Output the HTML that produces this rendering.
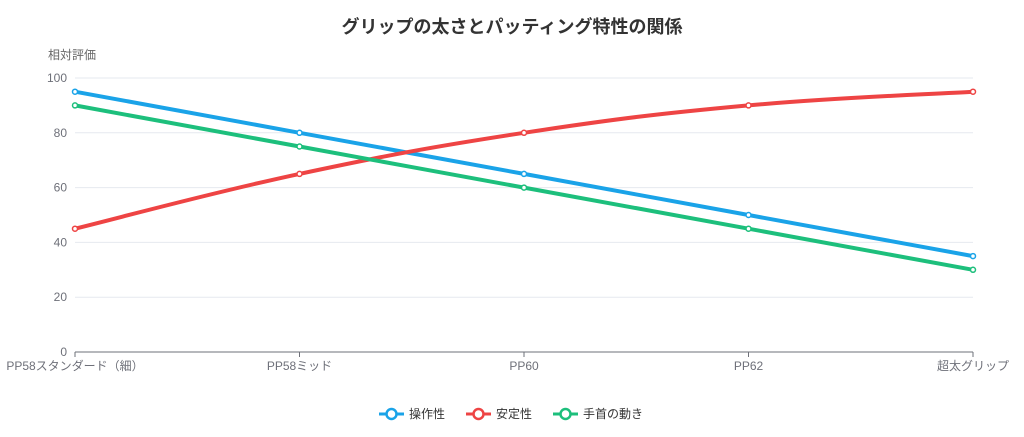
<!DOCTYPE html>
<html><head><meta charset="utf-8"><style>
html,body{margin:0;padding:0;background:#fff;width:1024px;height:437px;overflow:hidden}
svg{display:block;font-family:"Liberation Sans","Noto Sans CJK JP",sans-serif}
</style></head><body>
<svg id="c" width="1024" height="437">
<text x="512" y="33" text-anchor="middle" font-size="18" font-weight="bold" fill="#333">グリップの太さとパッティング特性の関係</text>
<text x="48" y="59" font-size="12" fill="#666">相対評価</text>
<g id="grid"></g><g id="series"></g><g id="legend"></g>
</svg>
<script>
const categories=["PP58スタンダード（細）","PP58ミッド","PP60","PP62","超太グリップ"];
const yTicks=[0,20,40,60,80,100];
const seriesNames=["操作性","安定性","手首の動き"];
const sControl=[95,80,65,50,35];
const sStable=[45,65,80,90,95];
const sWrist=[90,75,60,45,30];
const colors=["#1aa3e8","#ee4444","#1dbf7c"];
const NS="http://www.w3.org/2000/svg";
const L=75,R=973,T=78,B=352;
const xS=i=>L+i*(R-L)/(categories.length-1);
const yS=v=>B-v/100*(B-T);
function mk(t,a,p){const e=document.createElementNS(NS,t);for(const k in a)e.setAttribute(k,a[k]);p.appendChild(e);return e;}
const g=document.getElementById('grid');
yTicks.forEach(v=>{
 const l=mk('line',{x1:L,x2:R,y1:yS(v),y2:yS(v),stroke:v===0?'#6e7079':'#e6e9ef','stroke-width':1},g);
 
 
 const t=mk('text',{x:L-8,y:yS(v)+4,'text-anchor':'end','font-size':12,fill:'#6e7079'},g);
 t.textContent=v;
 
 
});
categories.forEach((c,i)=>{
 const tk=mk('line',{x1:xS(i),x2:xS(i),y1:B,y2:B+5,stroke:'#6e7079'},g);
 
 
 const t=mk('text',{x:xS(i),y:B+18,'text-anchor':'middle','font-size':12,fill:'#6e7079'},g);
 t.textContent=c;
 
 
});
function path(vals){
 const p=vals.map((v,i)=>[xS(i),yS(v)]);
 let d='M'+p[0][0]+','+p[0][1];
 const k=0.2;
 for(let i=0;i<p.length-1;i++){
  const p0=p[Math.max(i-1,0)],p1=p[i],p2=p[i+1],p3=p[Math.min(i+2,p.length-1)];
  const c1=[p1[0]+(p2[0]-p0[0])*k,p1[1]+(p2[1]-p0[1])*k];
  const c2=[p2[0]-(p3[0]-p1[0])*k,p2[1]-(p3[1]-p1[1])*k];
  d+=' C'+c1+' '+c2+' '+p2;
 }
 return d;
}
const sg=document.getElementById('series');
[sControl,sStable,sWrist].forEach((vals,si)=>{
 const pa=mk('path',{d:path(vals),fill:'none',stroke:colors[si],'stroke-width':4,'stroke-linejoin':'round'},sg);
 
 
 vals.forEach((v,i)=>{
  const c=mk('circle',{cx:xS(i),cy:yS(v),r:2.5,fill:'#fff',stroke:colors[si],'stroke-width':1.5},sg);
  
  
 });
});
const lg=document.getElementById('legend');
const lx=[379,466,553];
seriesNames.forEach((n,i)=>{
 const e=mk('g',{},lg);
 
 
 mk('line',{x1:lx[i],x2:lx[i]+25,y1:414,y2:414,stroke:colors[i],'stroke-width':3},e);
 mk('circle',{cx:lx[i]+12.5,cy:414,r:5,fill:'#fff',stroke:colors[i],'stroke-width':2.5},e);
 const t=mk('text',{x:lx[i]+30,y:418,'font-size':12,fill:'#333'},e);
 t.textContent=n;
});
</script>
</body></html>
